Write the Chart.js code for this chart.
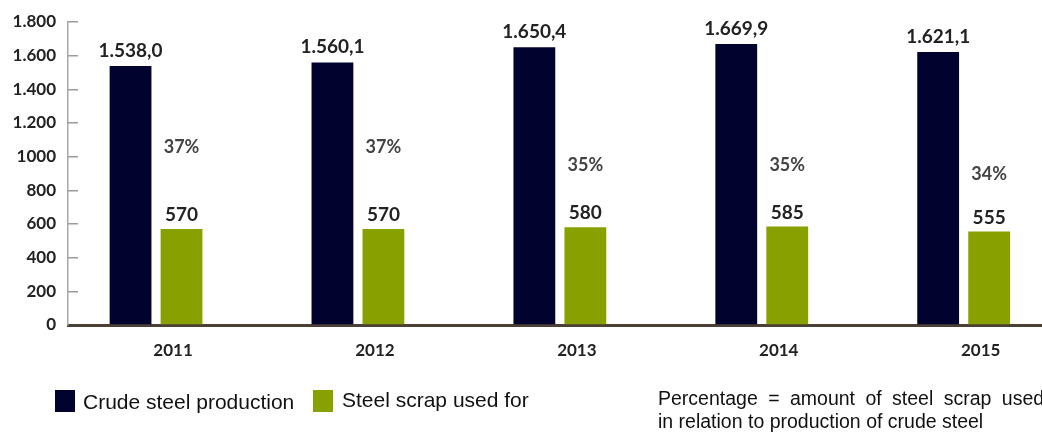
<!DOCTYPE html>
<html>
<head>
<meta charset="utf-8">
<script src="https://cdn.jsdelivr.net/npm/chart.js@4.4.1/dist/chart.umd.min.js"></script>
<style>
  html, body { margin: 0; padding: 0; background: #fff; overflow: hidden; }
  #wrap { position: relative; width: 1042px; height: 432px; overflow: hidden; }
  canvas { position: absolute; left: 0; top: 0; }
  .box { position: absolute; width: 20px; height: 22px; }
  .txt { position: absolute; font-family: "Liberation Sans", Arial, sans-serif; color: #111; white-space: nowrap; }
</style>
</head>
<body>
<div id="wrap">
  <canvas id="steelChart" width="1042" height="432"></canvas>
  <div class="box" style="left:55px; top:390px; background:#02022e;"></div>
  <div class="txt" style="left:83px; top:391px; font-size:21px; line-height:21px;">Crude steel production</div>
  <div class="box" style="left:313px; top:390px; background:#88a000;"></div>
  <div class="txt" style="left:342px; top:389px; font-size:21px; line-height:21px;">Steel scrap used for</div>
  <div class="txt" style="left:658px; top:387px; font-size:19.5px; line-height:23px;"><span style="word-spacing:5px;">Percentage = amount of steel scrap used</span><br>in relation to production of crude steel</div>
</div>
<script>
const years = ['2011', '2012', '2013', '2014', '2015'];
const crudeSteel = [1538.0, 1560.1, 1650.4, 1669.9, 1621.1];
const crudeLabels = ['1.538,0', '1.560,1', '1.650,4', '1.669,9', '1.621,1'];
const scrapUsed = [570, 570, 580, 585, 555];
const scrapShare = [37, 37, 35, 35, 34];
const yTickLabels = ['0', '200', '400', '600', '800', '1000', '1.200', '1.400', '1.600', '1.800'];

const darkBlue = '#02022e';
const green = '#88a000';

// value labels above bars + percentage labels
const labelPlugin = {
    id: 'barLabels',
    afterDatasetsDraw(chart) {
        const ctx = chart.ctx;
        const darkMeta = chart.getDatasetMeta(0);
        const greenMeta = chart.getDatasetMeta(1);
        const pctMeta = chart.getDatasetMeta(2);
        ctx.save();
        ctx.textAlign = 'center';
        ctx.textBaseline = 'alphabetic';
        ctx.fillStyle = '#222';
        ctx.font = 'bold 19px Lato, sans-serif';
        darkMeta.data.forEach((bar, i) => {
            ctx.fillText(crudeLabels[i], bar.x, bar.y - 9);
        });
        greenMeta.data.forEach((bar, i) => {
            ctx.fillText(String(scrapUsed[i]), bar.x, bar.y - 8);
        });
        ctx.fillStyle = '#444';
        ctx.font = 'bold 18px Lato, sans-serif';
        ctx.textBaseline = 'middle';
        pctMeta.data.forEach((pt, i) => {
            ctx.fillText(scrapShare[i] + '%', greenMeta.data[i].x, pt.y);
        });
        ctx.restore();
    }
};

const ctx = document.getElementById('steelChart').getContext('2d');
const chart = new Chart(ctx, {
    type: 'bar',
    data: {
        datasets: [
            {
                label: 'Crude steel production',
                data: crudeSteel.map((v, i) => ({ x: i, y: v })),
                backgroundColor: darkBlue,
                categoryPercentage: 0.505,
                barPercentage: 0.82
            },
            {
                label: 'Steel scrap used for',
                data: scrapUsed.map((v, i) => ({ x: i, y: v })),
                backgroundColor: green,
                categoryPercentage: 0.505,
                barPercentage: 0.82
            },
            {
                type: 'line',
                label: 'share',
                data: scrapShare.map((v, i) => ({ x: i, y: v })),
                yAxisID: 'yp',
                showLine: false,
                pointRadius: 0,
                pointHoverRadius: 0
            }
        ]
    },
    options: {
        responsive: false,
        animation: false,
        layout: { padding: { left: 0, right: 0, top: 22, bottom: 72 } },
        plugins: {
            legend: { display: false },
            tooltip: { enabled: false }
        },
        scales: {
            x: {
                type: 'linear',
                min: -0.436,
                max: 4.388,
                offset: false,
                afterBuildTicks: (scale) => {
                    scale.ticks = years.map((_, i) => ({ value: i }));
                },
                afterFit: (scale) => { scale.height = 35; },
                grid: { display: false, drawTicks: false },
                border: { display: true, color: '#4b4035', width: 3 },
                ticks: {
                    padding: 15,
                    labelOffset: 17,
                    maxRotation: 0,
                    color: '#222',
                    font: { family: 'Lato', size: 17, weight: 'bold' },
                    callback: (value, index) => years[index]
                }
            },
            y: {
                min: 0,
                max: 1800,
                afterFit: (scale) => {
                    scale.width = 68;
                    scale.paddingTop = 10;
                    scale.paddingBottom = 10;
                },
                grid: {
                    drawOnChartArea: false,
                    drawTicks: true,
                    tickLength: -10,
                    color: '#9a9a9a',
                    lineWidth: 1.5
                },
                border: { display: true, color: '#a8a8a8', width: 1.5 },
                ticks: {
                    stepSize: 200,
                    padding: 22,
                    color: '#222',
                    font: { family: 'Lato', size: 17, weight: 'bold' },
                    callback: (value, index) => yTickLabels[index]
                }
            },
            yp: {
                display: false,
                min: 17.2,
                max: 50.9
            }
        }
    },
    plugins: [labelPlugin]
});
</script>
</body>
</html>
